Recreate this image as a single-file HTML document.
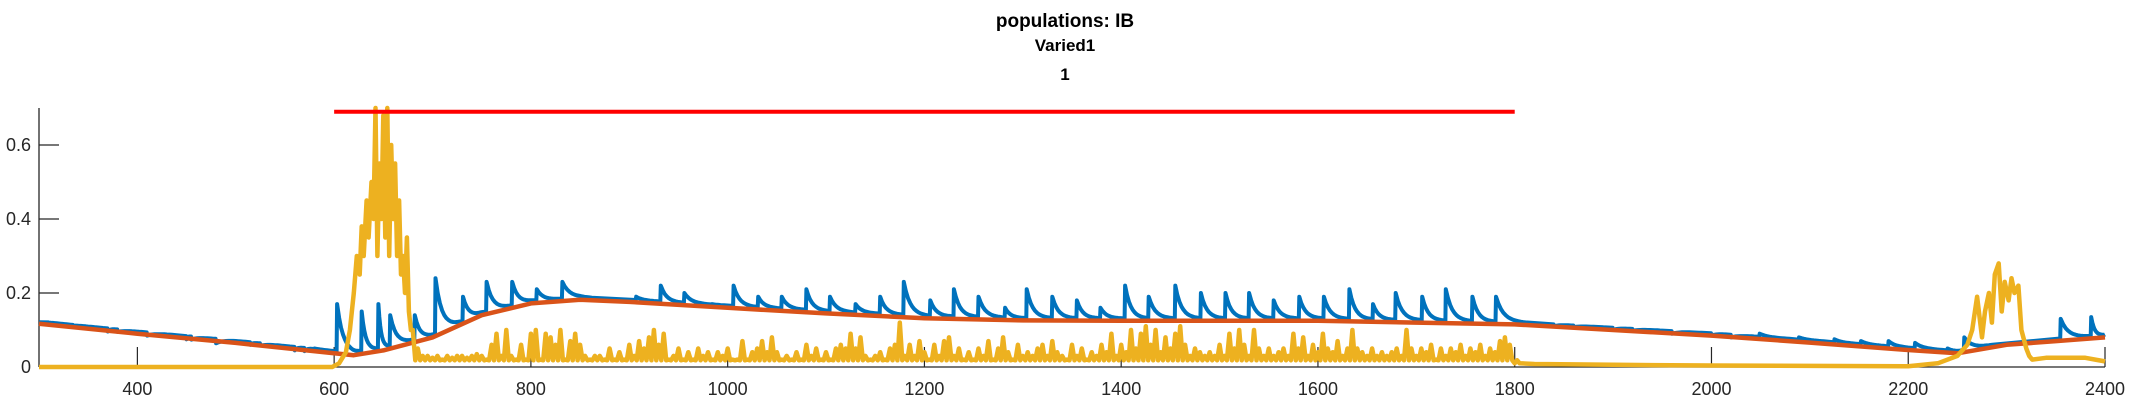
<!DOCTYPE html>
<html><head><meta charset="utf-8">
<style>
html,body{margin:0;padding:0;background:#fff;}
svg{display:block;font-family:"Liberation Sans",sans-serif;}
</style></head>
<body>
<svg id="chart" width="2133" height="400" viewBox="0 0 2133 400" xmlns="http://www.w3.org/2000/svg">
<text x="1065" y="27" text-anchor="middle" font-weight="bold" font-size="19">populations: IB</text>
<text x="1065" y="51" text-anchor="middle" font-weight="bold" font-size="17">Varied1</text>
<text x="1065" y="80" text-anchor="middle" font-weight="bold" font-size="17">1</text>
<g id="axes"></g>
<g id="series"></g>
</svg>
<script>
const xTicks = [400,600,800,1000,1200,1400,1600,1800,2000,2200,2400];
const yTicks = [0,0.2,0.4,0.6];
const yTickLabels = ["0","0.2","0.4","0.6"];
const redX = [300,400,500,600,620,650,700,750,800,850,900,1000,1100,1200,1300,1400,1500,1600,1700,1800,1900,2000,2100,2200,2250,2300,2350,2400];
const redY = [0.117,0.09,0.065,0.037,0.032,0.045,0.08,0.14,0.172,0.182,0.176,0.16,0.145,0.132,0.126,0.125,0.125,0.125,0.12,0.115,0.1,0.085,0.066,0.046,0.037,0.06,0.07,0.08];
const spikeX = [310,335,370,380,410,450,455,480,515,525,560,570,580,603,628,645,657,682,703,731,755,781,806,832,907,932,956,984,1006,1031,1055,1080,1104,1130,1155,1179,1206,1230,1255,1282,1304,1330,1355,1379,1404,1428,1455,1481,1506,1530,1555,1581,1606,1632,1656,1679,1706,1730,1757,1781,1840,1860,1900,1920,1960,2000,2020,2049,2089,2125,2152,2180,2207,2240,2257,2355,2386];
const spikeY = [0.12,0.112,0.096,0.095,0.085,0.075,0.074,0.064,0.06,0.058,0.045,0.043,0.05,0.17,0.15,0.17,0.14,0.14,0.24,0.19,0.23,0.23,0.21,0.23,0.19,0.22,0.2,0.17,0.22,0.19,0.19,0.21,0.19,0.17,0.19,0.23,0.18,0.21,0.19,0.16,0.21,0.19,0.18,0.16,0.22,0.19,0.22,0.2,0.2,0.2,0.18,0.19,0.19,0.21,0.17,0.2,0.19,0.21,0.19,0.19,0.11,0.108,0.1,0.098,0.09,0.085,0.08,0.09,0.08,0.075,0.07,0.07,0.065,0.05,0.08,0.13,0.135];
const redLineX = [600,1800];
const redLineY = [0.69,0.69];
const yellowPeakX = [300,598,605,612,616,620,623,626,628,630,633,635,638,640,642,644,646,648,650,652,654,656,658,660,662,664,666,668,670,672,674,676,678];
const yellowPeakY = [0,0,0.01,0.04,0.1,0.2,0.3,0.25,0.38,0.3,0.45,0.35,0.5,0.4,0.7,0.3,0.55,0.4,0.68,0.35,0.7,0.3,0.6,0.4,0.55,0.3,0.45,0.25,0.3,0.2,0.35,0.15,0.1];
const yellowNoiseStart = 680;
const yellowNoiseStep = 5;
const yellowNoise = [.1,.05,.03,.03,.025,.03,.02,.03,.025,.03,.03,.025,.03,.035,.03,.02,.06,.09,.03,.1,
.03,.02,.06,.02,.09,.1,.02,.09,.08,.06,.1,.02,.07,.09,.06,.03,.02,.03,.03,.02,
.05,.02,.04,.02,.06,.03,.07,.05,.08,.1,.06,.09,.02,.03,.05,.02,.04,.02,.05,.03,
.04,.02,.04,.03,.05,.02,.02,.07,.02,.04,.05,.07,.04,.08,.04,.02,.03,.02,.04,.02,
.06,.03,.05,.02,.04,.02,.05,.06,.05,.09,.05,.08,.03,.02,.03,.04,.02,.05,.06,.12,
.03,.06,.03,.07,.04,.02,.06,.03,.07,.08,.03,.05,.02,.04,.02,.05,.03,.07,.02,.05,
.08,.04,.02,.06,.03,.04,.03,.05,.06,.03,.07,.04,.03,.02,.06,.03,.05,.02,.04,.03,
.06,.04,.09,.03,.06,.04,.1,.05,.09,.11,.06,.1,.04,.08,.05,.09,.11,.06,.03,.05,
.04,.03,.04,.03,.06,.03,.09,.05,.1,.06,.03,.1,.05,.03,.05,.03,.04,.05,.03,.09,
.05,.08,.03,.06,.04,.09,.05,.04,.07,.03,.05,.1,.05,.04,.03,.05,.03,.04,.03,.04,
.05,.03,.1,.05,.03,.05,.04,.06,.02,.05,.03,.05,.04,.06,.03,.05,.04,.06,.03,.05,
.04,.07,.08,.06,.01];
const yellowTailX = [1805,1820,1900,2000,2100,2200,2230,2250,2260,2265,2270,2275,2278,2282,2285,2288,2292,2295,2298,2302,2305,2308,2312,2315,2320,2323,2326,2340,2380,2390,2400];
const yellowTailY = [.01,.008,.006,.004,.003,.002,.01,.03,.06,.1,.19,.08,.15,.2,.12,.25,.28,.15,.23,.18,.24,.2,.22,.1,.05,.03,.02,.025,.025,.02,.015];

const NS = "http://www.w3.org/2000/svg";
const X0 = 39, X1 = 2105, Y0 = 367, YTOP = 108;
const xMin = 300, xMax = 2400, yMax = 0.7;
function sx(v){ return X0 + (v - xMin) / (xMax - xMin) * (X1 - X0); }
function sy(v){ return Y0 - v / yMax * (Y0 - YTOP); }
function mk(tag, attrs, parent){ const e = document.createElementNS(NS, tag); for (const k in attrs) e.setAttribute(k, attrs[k]); parent.appendChild(e); return e; }
function redAt(x){
  for (let i = 0; i < redX.length - 1; i++) {
    if (x >= redX[i] && x <= redX[i+1]) { const t = (x - redX[i]) / (redX[i+1] - redX[i]); return redY[i] + t * (redY[i+1] - redY[i]); }
  }
  return x < redX[0] ? redY[0] : redY[redY.length - 1];
}
const axes = document.getElementById('axes');
const series = document.getElementById('series');

const yAxis = mk('line', {x1:X0, y1:YTOP, x2:X0, y2:Y0, stroke:'#262626', 'stroke-width':1.3}, axes);


const xAxis = mk('line', {x1:X0, y1:Y0, x2:X1, y2:Y0, stroke:'#262626', 'stroke-width':1.3}, axes);



xTicks.forEach(function(v){
  const t = mk('line', {x1:sx(v), y1:Y0, x2:sx(v), y2:Y0 - 20, stroke:'#262626', 'stroke-width':1.2}, axes);
  
  
  const l = mk('text', {x:sx(v), y:395, 'text-anchor':'middle', 'font-size':18, fill:'#262626'}, axes);
  l.textContent = String(v);
  
  
});
yTicks.forEach(function(v, i){
  const t = mk('line', {x1:X0, y1:sy(v), x2:X0 + 20, y2:sy(v), stroke:'#262626', 'stroke-width':1.2}, axes);
  
  
  const l = mk('text', {x:31, y:sy(v) + 6, 'text-anchor':'end', 'font-size':18, fill:'#262626'}, axes);
  l.textContent = yTickLabels[i];
  
  
});

let bluePts = [];
spikeX.forEach(function(s, i){
  bluePts.push([s - 0.5, redAt(s - 0.5) + 0.006]);
  const pk = spikeY[i];
  const base = redAt(s) + 0.006;
  const nextS = i < spikeX.length - 1 ? spikeX[i+1] : xMax;
  const span = Math.min(nextS - s - 1, 30);
  for (let k = 0; k <= 12; k++) {
    const x = s + span * k / 12;
    const b = redAt(x) + 0.006;
    bluePts.push([x, b + (pk - base) * Math.exp(-k / 3.0)]);
  }
});
bluePts.unshift([xMin, redAt(xMin) + 0.004]);
bluePts.push([xMax, 0.088]);
bluePts.sort(function(a,b){ return a[0] - b[0]; });
const blue = mk('path', {d: 'M' + bluePts.map(function(p){ return sx(p[0]).toFixed(1) + ',' + sy(p[1]).toFixed(1); }).join('L'), fill:'none', stroke:'#0072BD', 'stroke-width':4, 'stroke-linejoin':'round'}, series);



const red = mk('path', {d: 'M' + redX.map(function(x, i){ return sx(x).toFixed(1) + ',' + sy(redY[i]).toFixed(1); }).join('L'), fill:'none', stroke:'#D95319', 'stroke-width':4.5, 'stroke-linejoin':'round'}, series);



let yPts = [];
yellowPeakX.forEach(function(x, i){ yPts.push([x, yellowPeakY[i]]); });
yellowNoise.forEach(function(v, i){ const x = yellowNoiseStart + i * yellowNoiseStep; yPts.push([x, v]); yPts.push([x + 2.5, 0.018]); });
yellowTailX.forEach(function(x, i){ yPts.push([x, yellowTailY[i]]); });
const yellow = mk('path', {d: 'M' + yPts.map(function(p){ return sx(p[0]).toFixed(1) + ',' + sy(p[1]).toFixed(1); }).join('L'), fill:'none', stroke:'#EDB120', 'stroke-width':4.5, 'stroke-linejoin':'round'}, series);



const thr = mk('line', {x1:sx(redLineX[0]), y1:sy(redLineY[0]), x2:sx(redLineX[1]), y2:sy(redLineY[1]), stroke:'#FF0000', 'stroke-width':4}, series);


</script>
</body></html>
